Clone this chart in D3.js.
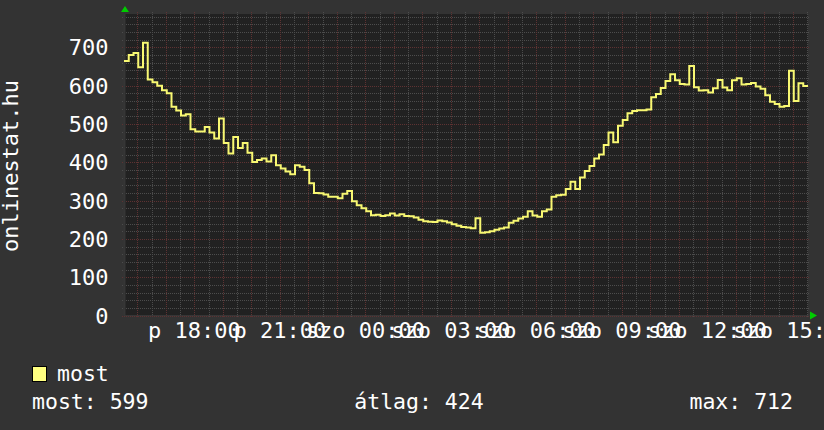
<!DOCTYPE html>
<html>
<head>
<meta charset="utf-8">
<script src="https://cdn.jsdelivr.net/npm/d3@7"></script>
<style>
  html, body { margin: 0; padding: 0; background: #333333; }
  svg { display: block; font-family: "DejaVu Sans Mono", monospace; }
</style>
</head>
<body>
<div id="chart"></div>
<script>
// time axis: 24h window, one value per 10 minutes
const startTime = new Date(2024, 0, 5, 15, 32);
const stepMinutes = 10;

const mostValues = [
  664, 680, 685, 648, 712, 616, 609, 600, 588, 580,
  545, 535, 522, 525, 486, 480, 480, 492, 478, 462,
  514, 450, 423, 466, 437, 450, 425, 401, 406, 410,
  402, 418, 392, 384, 376, 369, 392, 388, 380, 345,
  320, 319, 316, 310, 310, 306, 318, 325, 298, 288,
  280, 272, 262, 263, 260, 262, 266, 261, 264, 260,
  259, 256, 250, 246, 245, 244, 248, 246, 243, 238,
  234, 231, 230, 228, 254, 216, 217, 220, 224, 227,
  230, 242, 247, 253, 258, 272, 261, 258, 272, 277,
  310, 314, 315, 330, 349, 330, 360, 377, 390, 410,
  420, 445, 478, 452, 495, 510, 528, 534, 536, 536,
  538, 570, 578, 594, 612, 630, 614, 604, 603, 651,
  596, 587, 588, 582, 593, 615, 595, 588, 614, 619,
  603, 604, 607, 598, 592, 575, 558, 552, 545, 547,
  639, 560, 606, 599
];

const yTicks = [0, 100, 200, 300, 400, 500, 600, 700];
const xTickLabels = ["p 18:00", "p 21:00", "szo 00:00", "szo 03:00",
                     "szo 06:00", "szo 09:00", "szo 12:00", "szo 15:00"];
const yTitle = "onlinestat.hu";
const legendNames = ["most"];
const statLabels = ["most: 599", "átlag: 424", "max: 712"];

const width = 824;
const height = 430;
const plot = { left: 124, right: 808, top: 14, bottom: 315.5 };

const endTime = d3.timeHour.offset(startTime, 24);
const x = d3.scaleTime().domain([startTime, endTime]).range([plot.left, plot.right]);
const y = d3.scaleLinear().domain([0, 787]).range([plot.bottom, plot.top]);

const points = mostValues.map((v, i) => ({ t: d3.timeMinute.offset(startTime, i * stepMinutes), v: v }));
points.push({ t: endTime, v: mostValues[mostValues.length - 1] });

const svg = d3.select("#chart").append("svg")
  .attr("width", width)
  .attr("height", height);

svg.append("rect").attr("width", width).attr("height", height).attr("fill", "#333333");
svg.append("rect")
  .attr("x", plot.left).attr("y", plot.top)
  .attr("width", plot.right - plot.left).attr("height", plot.bottom - plot.top)
  .attr("fill", "#212121");

// grid
const grid = svg.append("g").attr("shape-rendering", "crispEdges");
const minorY = d3.range(0, 787, 20).filter(v => v % 100 !== 0);
const minorX = d3.timeMinute.every(30).range(startTime, endTime).filter(t => t.getMinutes() !== 0);
const majorX = d3.timeHour.every(1).range(startTime, endTime);
const minorColour = "#4c4c4c";
const majorColour = "#5e3232";

grid.selectAll(".minor-y").data(minorY).join("line")
  .attr("x1", plot.left - 2).attr("x2", plot.right + 2)
  .attr("y1", d => Math.round(y(d)) + 0.5).attr("y2", d => Math.round(y(d)) + 0.5)
  .attr("stroke", minorColour).attr("stroke-dasharray", "1,1");
grid.selectAll(".minor-x").data(minorX).join("line")
  .attr("x1", d => Math.round(x(d)) + 0.5).attr("x2", d => Math.round(x(d)) + 0.5)
  .attr("y1", plot.top - 2).attr("y2", plot.bottom + 2)
  .attr("stroke", minorColour).attr("stroke-dasharray", "1,1");
grid.selectAll(".major-y").data(yTicks).join("line")
  .attr("x1", plot.left - 2).attr("x2", plot.right + 2)
  .attr("y1", d => Math.round(y(d)) + 0.5).attr("y2", d => Math.round(y(d)) + 0.5)
  .attr("stroke", majorColour).attr("stroke-dasharray", "1,1");
grid.selectAll(".major-x").data(majorX).join("line")
  .attr("x1", d => Math.round(x(d)) + 0.5).attr("x2", d => Math.round(x(d)) + 0.5)
  .attr("y1", plot.top - 2).attr("y2", plot.bottom + 2)
  .attr("stroke", majorColour).attr("stroke-dasharray", "1,1");

// axes
svg.append("line")
  .attr("x1", plot.left + 0.5).attr("x2", plot.left + 0.5)
  .attr("y1", plot.top).attr("y2", plot.bottom)
  .attr("stroke", "#363636").attr("stroke-width", 2);
svg.append("line")
  .attr("x1", plot.left).attr("x2", plot.right + 2)
  .attr("y1", plot.bottom).attr("y2", plot.bottom)
  .attr("stroke", "#363636").attr("stroke-width", 1);

// green arrows
svg.append("path")
  .attr("d", `M${plot.left - 3},${plot.top - 2}L${plot.left + 5},${plot.top - 2}L${plot.left + 1},${plot.top - 8}Z`)
  .attr("fill", "#00cc00");
svg.append("path")
  .attr("d", `M${plot.right + 2},${plot.bottom - 4}L${plot.right + 2},${plot.bottom + 4}L${plot.right + 9},${plot.bottom}Z`)
  .attr("fill", "#00cc00");

// data line
svg.append("clipPath").attr("id", "clip").append("rect")
  .attr("x", plot.left).attr("y", plot.top - 2)
  .attr("width", plot.right - plot.left).attr("height", plot.bottom - plot.top + 2);

const line = d3.line()
  .x(d => x(d.t))
  .y(d => y(d.v))
  .curve(d3.curveStepAfter);

svg.append("path")
  .datum(points)
  .attr("clip-path", "url(#clip)")
  .attr("fill", "none")
  .attr("stroke", "#f8f872")
  .attr("stroke-width", 2)
  .attr("stroke-linejoin", "miter")
  .attr("d", line);

// y labels
svg.selectAll(".ylab").data(yTicks).join("text")
  .attr("x", 108.5)
  .attr("y", d => y(d) + 8)
  .attr("text-anchor", "end")
  .attr("fill", "#ffffff")
  .attr("font-size", 22)
  .text(d => d);

svg.append("text")
  .attr("transform", "translate(18,166) rotate(-90)")
  .attr("text-anchor", "middle")
  .attr("fill", "#ffffff")
  .attr("font-size", 22)
  .text(yTitle);

// x labels, every 3 hours, centred under the tick
const labelTimes = d3.timeHour.every(3).range(startTime, endTime);
svg.selectAll(".xlab").data(labelTimes).join("text")
  .attr("x", d => x(d))
  .attr("y", 338)
  .attr("text-anchor", "middle")
  .attr("fill", "#ffffff")
  .attr("font-size", 22)
  .text((d, i) => xTickLabels[i]);

// legend
svg.append("rect")
  .attr("x", 32.5).attr("y", 366.5).attr("width", 14).attr("height", 15)
  .attr("fill", "#ffff80").attr("stroke", "#000000");
svg.append("text")
  .attr("x", 57).attr("y", 381)
  .attr("fill", "#ffffff").attr("font-size", 21.5)
  .text(legendNames[0]);

const statAnchor = ["start", "middle", "end"];
const statX = [32, 419, 793];
svg.selectAll(".stat").data(statLabels).join("text")
  .attr("x", (d, i) => statX[i])
  .attr("y", 409)
  .attr("text-anchor", (d, i) => statAnchor[i])
  .attr("fill", "#ffffff")
  .attr("font-size", 21.5)
  .text(d => d);
</script>
</body>
</html>
